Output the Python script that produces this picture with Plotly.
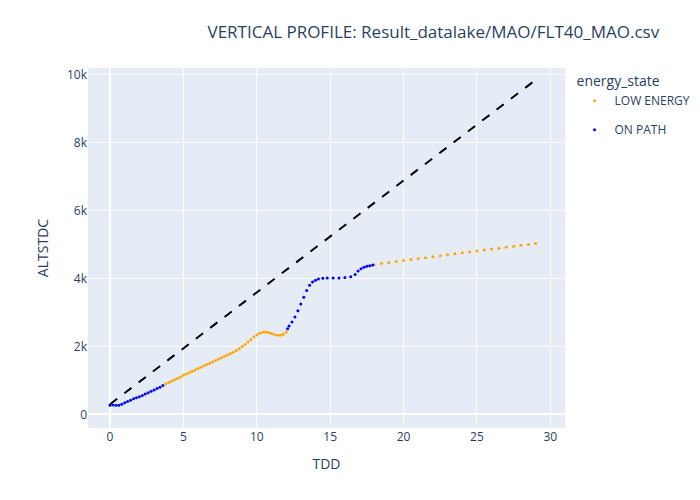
import plotly.graph_objects as go

# ON PATH, first climb segment
on1_tdd = [0, 0.2, 0.4, 0.6, 0.8, 1.0, 1.2, 1.4, 1.6, 1.8, 2.0, 2.2, 2.4, 2.6, 2.8, 3.0, 3.2, 3.4, 3.6]
on1_alt = [270, 280, 270, 270, 300, 340, 380, 420, 460, 490, 520, 560, 600, 640, 680, 720, 760, 800, 850]

# LOW ENERGY, first segment
low1_tdd = [3.8, 4.0, 4.2, 4.4, 4.6, 4.8, 5.0, 5.2, 5.4, 5.6, 5.8, 6.0, 6.2, 6.4, 6.6, 6.8, 7.0,
            7.2, 7.4, 7.6, 7.8, 8.0, 8.2, 8.4, 8.6, 8.8, 9.0, 9.2, 9.4, 9.6, 9.8, 10.0, 10.2,
            10.4, 10.6, 10.8, 11.0, 11.2, 11.4, 11.6, 11.8, 12.0]
low1_alt = [900, 940, 980, 1020, 1060, 1100, 1150, 1190, 1230, 1270, 1310, 1350, 1390, 1430, 1470,
            1510, 1550, 1590, 1630, 1670, 1710, 1750, 1790, 1830, 1880, 1930, 2000, 2060, 2130,
            2200, 2280, 2340, 2390, 2420, 2430, 2410, 2380, 2350, 2330, 2330, 2360, 2430]

# ON PATH, second climb segment
on2_tdd = [12.1, 12.2, 12.4, 12.6, 12.8, 13.0, 13.2, 13.4, 13.6, 13.8, 14.0, 14.2, 14.5, 14.8,
           15.2, 15.6, 16.0, 16.4, 16.7, 16.9, 17.1, 17.3, 17.5, 17.7, 17.9]
on2_alt = [2520, 2600, 2720, 2870, 3050, 3250, 3450, 3650, 3800, 3900, 3950, 3990, 4010, 4020,
           4020, 4020, 4030, 4050, 4120, 4220, 4290, 4330, 4360, 4380, 4400]

# LOW ENERGY, final segment
low2_tdd = [18.0, 18.5, 19.0, 19.5, 20.0, 20.5, 21.0, 21.5, 22.0, 22.5, 23.0, 23.5, 24.0, 24.5,
            25.0, 25.5, 26.0, 26.5, 27.0, 27.5, 28.0, 28.5, 29.0]
low2_alt = [4410, 4440, 4470, 4500, 4530, 4560, 4590, 4610, 4640, 4670, 4700, 4730, 4760, 4780,
            4810, 4840, 4870, 4890, 4920, 4950, 4980, 5000, 5030]

ref_tdd = [0, 29]
ref_alt = [300, 9850]

fig = go.Figure()
fig.add_trace(go.Scatter(x=low1_tdd, y=low1_alt, mode='markers', marker=dict(color='orange', size=3),
                         name='LOW ENERGY', legendgroup='low'))
fig.add_trace(go.Scatter(x=low2_tdd, y=low2_alt, mode='markers', marker=dict(color='orange', size=3),
                         name='LOW ENERGY', legendgroup='low', showlegend=False))
fig.add_trace(go.Scatter(x=on1_tdd, y=on1_alt, mode='markers', marker=dict(color='blue', size=3),
                         name='ON PATH', legendgroup='on'))
fig.add_trace(go.Scatter(x=on2_tdd, y=on2_alt, mode='markers', marker=dict(color='blue', size=3),
                         name='ON PATH', legendgroup='on', showlegend=False))
fig.add_trace(go.Scatter(x=ref_tdd, y=ref_alt, mode='lines', line=dict(color='black', dash='dash', width=2),
                         showlegend=False))

fig.update_layout(
    width=700, height=500,
    margin=dict(t=60, b=80, l=80),
    title=dict(text="VERTICAL PROFILE: Result_datalake/MAO/FLT40_MAO.csv", x=0.285, xanchor='left'),
    xaxis_title="TDD",
    yaxis_title="ALTSTDC",
    legend_title_text="energy_state",
    xaxis=dict(range=[-1.5, 31]),
    yaxis=dict(range=[-400, 10200]),
)
fig.write_html("out.html")
